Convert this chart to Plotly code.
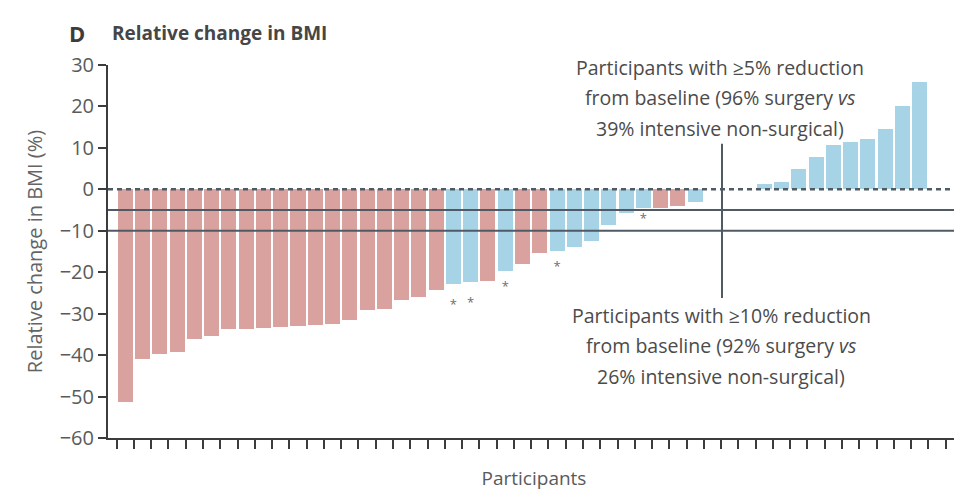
import plotly.graph_objects as go

participants = list(range(1, 48))
bmi_change = [-51.2, -41.0, -39.8, -39.2, -36.0, -35.3, -33.8, -33.6, -33.4, -33.2,
              -33.0, -32.8, -32.6, -31.5, -29.0, -28.8, -26.6, -26.0, -24.3, -22.8,
              -22.4, -22.0, -19.6, -18.0, -15.4, -14.9, -13.9, -12.5, -8.7, -5.8,
              -4.6, -4.4, -3.9, -3.1, 0, 0, 0, 1.4, 1.8, 5.0,
              7.9, 10.7, 11.5, 12.1, 14.5, 20.2, 26.0]
group = (["S"] * 19 + ["N"] * 2 + ["S"] + ["N"] + ["S"] * 2 + ["N"] * 6 + ["S"] * 2 + ["N"]
         + [""] * 3 + ["N"] * 10)
star_participants = [20, 21, 23, 26, 31]
star_y = [-28.1, -27.6, -23.7, -18.9, -7.3]
y_ticks = [30, 20, 10, 0, -10, -20, -30, -40, -50, -60]
top_note = ["Participants with ≥5% reduction", "from baseline (96% surgery <i>vs</i>",
            "39% intensive non-surgical)"]
bottom_note = ["Participants with ≥10% reduction", "from baseline (92% surgery <i>vs</i>",
               "26% intensive non-surgical)"]

RED = "rgb(217,162,158)"
BLUE = "rgb(166,212,230)"
LINE = "rgb(80,90,100)"
TXT = "rgb(75,75,75)"
FONT = "Open Sans"

colors = [RED if g == "S" else (BLUE if g == "N" else "rgba(0,0,0,0)") for g in group]

fig = go.Figure()
fig.add_trace(go.Bar(x=participants, y=bmi_change, marker=dict(color=colors, line=dict(width=0)),
                     width=0.87, showlegend=False, hoverinfo="skip"))
fig.add_trace(go.Scatter(x=star_participants, y=star_y, mode="text", text=["*"] * len(star_y),
                         textfont=dict(size=13, color="rgb(110,110,110)", family=FONT),
                         showlegend=False, hoverinfo="skip"))

XMAX = 49.33
ticks_x = [i + 0.5 for i in range(0, 49)]

shapes = [
    dict(type="line", xref="x", yref="y", x0=0, x1=XMAX, y0=0, y1=0,
         line=dict(color=LINE, width=2.5, dash="5px,4px"), layer="above"),
    dict(type="line", xref="x", yref="y", x0=0, x1=XMAX, y0=-5, y1=-5,
         line=dict(color=LINE, width=2), layer="above"),
    dict(type="line", xref="x", yref="y", x0=0, x1=XMAX, y0=-10, y1=-10,
         line=dict(color=LINE, width=2), layer="above"),
    dict(type="line", xref="x", yref="y", x0=35.55, x1=35.55, y0=11.0, y1=-26.2,
         line=dict(color=LINE, width=2), layer="above"),
]

# page has 8px body margin; plot area: x 108..960, y 65..438 in window pixels
def px(xp):
    return (xp - 108) / 852
def py(yp):
    return (438 - yp) / 373

annotations = [
    dict(text="<b>D</b>", x=px(67), y=py(33), xref="paper", yref="paper", showarrow=False,
         xanchor="left", yanchor="middle", font=dict(size=22, color="rgb(60,60,60)", family=FONT)),
    dict(text="<b>Relative change in BMI</b>", x=px(110), y=py(33), xref="paper", yref="paper",
         showarrow=False, xanchor="left", yanchor="middle",
         font=dict(size=19, color="rgb(70,70,70)", family=FONT)),
]
for i, line in enumerate(top_note):
    annotations.append(dict(text=line, x=px(720), y=py(67 + 30.5 * i), xref="paper", yref="paper",
                            showarrow=False, xanchor="center", yanchor="middle",
                            font=dict(size=19.5, color=TXT, family=FONT)))
for i, line in enumerate(bottom_note):
    annotations.append(dict(text=line, x=px(721), y=py(315 + 30.5 * i), xref="paper", yref="paper",
                            showarrow=False, xanchor="center", yanchor="middle",
                            font=dict(size=19.5, color=TXT, family=FONT)))

fig.update_layout(
    width=954, height=483,
    margin=dict(l=100, r=2, t=57, b=53),
    plot_bgcolor="white", paper_bgcolor="white",
    shapes=shapes, annotations=annotations,
    bargap=0,
    font=dict(family=FONT, color=TXT),
)
fig.update_xaxes(range=[0, XMAX], showgrid=False, zeroline=False, showline=True,
                 linecolor="rgb(60,60,60)", linewidth=2,
                 tickmode="array", tickvals=ticks_x, ticktext=[""] * len(ticks_x),
                 ticks="outside", ticklen=9, tickwidth=2, tickcolor="rgb(60,60,60)",
                 title=dict(text="Participants", font=dict(size=19, color="rgb(90,90,90)", family=FONT), standoff=22))
fig.update_yaxes(range=[-60, 30], showgrid=False, zeroline=False, showline=True,
                 linecolor="rgb(60,60,60)", linewidth=2,
                 tickmode="array", tickvals=y_ticks,
                 ticks="outside", ticklen=8, tickwidth=2, tickcolor="rgb(60,60,60)",
                 tickfont=dict(size=20, color="rgb(90,90,90)", family=FONT),
                 title=dict(text="Relative change in BMI (%)", font=dict(size=20, color="rgb(100,100,100)", family=FONT),
                            standoff=12))

fig.write_html("out.html")
